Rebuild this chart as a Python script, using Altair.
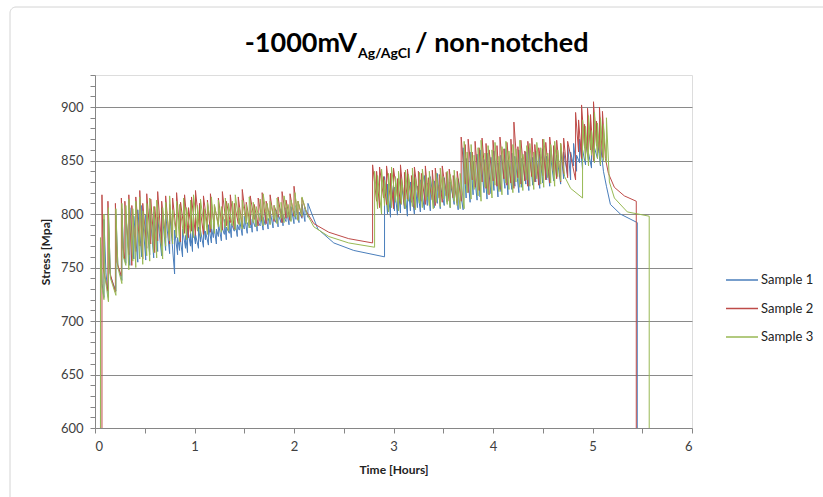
import altair as alt
import pandas as pd

SERIES = ["Sample 1", "Sample 2", "Sample 3"]
COLORS = ["#4A7EBB", "#BE4B48", "#98B954"]

# ---------------- Sample 1 (blue) ----------------
s1_start_t = [0.055, 0.055, 0.07, 0.09, 0.09, 0.11, 0.135, 0.135, 0.155, 0.21, 0.21, 0.23, 0.27, 0.27, 0.29, 0.31]
s1_start_v = [600, 775, 735, 722, 795, 745, 722, 800, 742, 728, 800, 752, 738, 805, 760, 754]
s1_a1_t = [0.31, 0.35, 0.39, 0.43, 0.47, 0.51, 0.55, 0.59, 0.63, 0.67, 0.71, 0.75]
s1_a1_lo = [754, 752, 758, 755, 760, 757, 762, 759, 765, 761, 766, 763]
s1_a1_hi = [800, 806, 798, 804, 808, 799, 805, 802, 797, 806, 800, 803]
s1_a2_t = [0.80, 0.83, 0.85, 0.88, 0.91, 0.93, 0.96, 0.98, 1.01, 1.04, 1.06, 1.09, 1.11, 1.14, 1.17,
           1.19, 1.22, 1.24, 1.27, 1.30, 1.32, 1.35, 1.37, 1.40, 1.43, 1.45, 1.48, 1.50, 1.53, 1.56,
           1.58, 1.61, 1.63, 1.66, 1.69, 1.71, 1.74, 1.76, 1.79, 1.82, 1.84, 1.87, 1.89, 1.92, 1.95,
           1.97, 2.00, 2.02, 2.05, 2.08, 2.11, 2.14]
s1_a2_lo = [744, 762, 766, 760, 768, 764, 770, 765, 772, 768, 774, 769, 776, 771, 773,
            778, 772, 779, 775, 781, 776, 782, 778, 784, 779, 785, 780, 786, 782, 787,
            783, 788, 784, 789, 785, 790, 786, 791, 787, 792, 788, 792, 789, 793, 790,
            794, 791, 795, 792, 796, 793, 797]
s1_a2_hi = [785, 778, 782, 786, 780, 787, 783, 789, 781, 788, 785, 791, 784, 790, 787,
            793, 786, 792, 789, 795, 788, 794, 791, 797, 790, 796, 793, 798, 792, 799,
            795, 800, 794, 801, 797, 802, 796, 803, 798, 804, 800, 805, 799, 806, 801,
            807, 803, 808, 802, 809, 806, 810]
s1_gap_t = [2.18, 2.24, 2.40, 2.60, 2.91]
s1_gap_v = [800, 786, 773, 766, 760]
s1_b_t = [2.91, 2.94, 2.97, 3.01, 3.04, 3.07, 3.11, 3.14, 3.17, 3.21, 3.24, 3.27, 3.31, 3.34, 3.37,
          3.41, 3.44, 3.47, 3.51, 3.54, 3.57, 3.61, 3.65]
s1_b_lo = [760, 800, 797, 803, 799, 801, 805, 798, 803, 800, 806, 802, 804, 808, 803,
           806, 810, 805, 808, 811, 806, 809, 804]
s1_b_hi = [835, 828, 836, 825, 833, 838, 827, 834, 830, 837, 826, 832, 836, 829, 835,
           831, 838, 827, 834, 837, 830, 836, 833]
s1_c_t = [3.70, 3.73, 3.77, 3.80, 3.84, 3.87, 3.91, 3.94, 3.98, 4.01, 4.05, 4.08, 4.12, 4.15, 4.19,
          4.22, 4.26, 4.29, 4.33, 4.36, 4.40, 4.43, 4.47, 4.50, 4.54, 4.57, 4.61, 4.64, 4.68, 4.71, 4.75]
s1_c_lo = [804, 815, 811, 818, 813, 816, 820, 814, 819, 822, 816, 821, 824, 818, 823,
           826, 820, 825, 828, 822, 827, 830, 824, 829, 832, 826, 831, 834, 828, 833, 836]
s1_c_hi = [862, 852, 858, 849, 856, 860, 851, 857, 853, 859, 848, 855, 861, 850, 857,
           854, 860, 852, 858, 862, 853, 859, 856, 861, 854, 860, 863, 855, 861, 858, 864]
s1_d_t = [4.78, 4.81, 4.84, 4.87, 4.90, 4.93, 4.96, 4.99, 5.02, 5.05, 5.08]
s1_d_lo = [832, 845, 840, 848, 842, 846, 850, 843, 848, 852, 845]
s1_d_hi = [858, 866, 855, 870, 860, 868, 857, 872, 862, 869, 865]
s1_end_t = [5.11, 5.14, 5.18, 5.28, 5.45, 5.45]
s1_end_v = [840, 826, 809, 800, 792, 600]

# ---------------- Sample 2 (red) ----------------
s2_start_t = [0.07, 0.07, 0.085, 0.13, 0.13, 0.15, 0.205, 0.205, 0.22, 0.265, 0.265, 0.28, 0.30]
s2_start_v = [600, 818, 748, 728, 812, 745, 727, 810, 755, 742, 815, 768, 758]
s2_a_t = [0.30, 0.34, 0.37, 0.41, 0.45, 0.48, 0.52, 0.56, 0.60, 0.63, 0.67, 0.71, 0.75, 0.78, 0.82,
          0.86, 0.90, 0.94, 0.97, 1.01, 1.05, 1.09, 1.13, 1.16, 1.20, 1.24, 1.28, 1.32, 1.36, 1.40,
          1.44, 1.48, 1.52, 1.56, 1.60, 1.64, 1.68, 1.72, 1.76, 1.80, 1.84, 1.88, 1.92, 1.96, 2.00,
          2.04, 2.08]
s2_a_lo = [758, 762, 752, 765, 770, 758, 768, 772, 764, 775, 770, 778, 772, 776, 780,
           774, 782, 778, 784, 780, 786, 781, 788, 783, 787, 790, 785, 789, 792, 786,
           791, 788, 793, 790, 795, 789, 794, 791, 796, 793, 797, 792, 796, 794, 798,
           795, 797]
s2_a_hi = [812, 818, 808, 816, 822, 810, 819, 814, 807, 821, 812, 817, 809, 815, 820,
           811, 818, 806, 816, 822, 810, 817, 813, 819, 808, 815, 821, 812, 818, 810,
           816, 823, 811, 817, 809, 815, 820, 812, 818, 808, 816, 821, 813, 819, 826,
           812, 815]
s2_gap_t = [2.12, 2.20, 2.35, 2.55, 2.79]
s2_gap_v = [803, 791, 783, 777, 773]
s2_b_t = [2.79, 2.83, 2.86, 2.90, 2.93, 2.97, 3.00, 3.04, 3.07, 3.11, 3.14, 3.18, 3.21, 3.25, 3.28,
          3.32, 3.35, 3.39, 3.42, 3.46, 3.49, 3.53, 3.56, 3.60, 3.64]
s2_b_lo = [773, 812, 806, 815, 809, 813, 805, 816, 810, 808, 814, 811, 806, 815, 812,
           809, 816, 813, 808, 815, 811, 817, 812, 815, 810]
s2_b_hi = [846, 840, 844, 835, 845, 838, 843, 833, 846, 839, 842, 836, 844, 840, 838,
           845, 834, 841, 843, 837, 845, 839, 842, 836, 840]
s2_c_t = [3.68, 3.72, 3.75, 3.79, 3.82, 3.86, 3.89, 3.93, 3.96, 4.00, 4.04, 4.07, 4.11, 4.14, 4.18,
          4.21, 4.25, 4.28, 4.32, 4.35, 4.39, 4.42, 4.46, 4.50, 4.53, 4.57, 4.61, 4.64, 4.68, 4.71, 4.75]
s2_c_lo = [812, 828, 820, 832, 825, 822, 830, 824, 818, 831, 826, 823, 833, 827, 829,
           824, 834, 828, 831, 826, 835, 830, 827, 836, 832, 829, 837, 833, 830, 838, 834]
s2_c_hi = [872, 865, 870, 858, 868, 862, 871, 866, 860, 869, 864, 872, 861, 867, 870,
           886, 863, 869, 859, 868, 871, 865, 862, 870, 867, 872, 864, 869, 866, 871, 868]
s2_d_t = [4.83, 4.86, 4.89, 4.92, 4.95, 4.98, 5.01, 5.04, 5.07, 5.10]
s2_d_lo = [832, 858, 852, 862, 855, 860, 850, 864, 857, 853]
s2_d_hi = [895, 888, 902, 884, 899, 893, 905, 887, 900, 896]
s2_end_t = [5.13, 5.16, 5.22, 5.32, 5.44, 5.44]
s2_end_v = [852, 838, 825, 817, 812, 600]

# ---------------- Sample 3 (green) ----------------
s3_start_t = [0.055, 0.055, 0.07, 0.09, 0.09, 0.10, 0.135, 0.135, 0.155, 0.21, 0.21, 0.23, 0.27, 0.27, 0.285, 0.31]
s3_start_v = [600, 778, 732, 720, 800, 742, 718, 806, 740, 724, 805, 750, 735, 810, 760, 752]
s3_a_t = [0.31, 0.34, 0.38, 0.41, 0.45, 0.48, 0.52, 0.55, 0.59, 0.62, 0.68, 0.71, 0.75, 0.78, 0.82,
          0.85, 0.89, 0.92, 0.96, 0.99, 1.03, 1.06, 1.10, 1.13, 1.17, 1.20, 1.24, 1.27, 1.31, 1.34,
          1.38, 1.41, 1.45, 1.48, 1.52, 1.55, 1.59, 1.62, 1.66, 1.69, 1.73, 1.76, 1.80, 1.83, 1.87,
          1.90, 1.94, 1.97, 2.01, 2.04, 2.08]
s3_a_lo = [752, 748, 756, 750, 758, 753, 761, 756, 764, 759, 758, 770, 775, 772, 778,
           774, 780, 776, 782, 778, 784, 779, 785, 781, 786, 782, 788, 783, 787, 784,
           789, 785, 790, 786, 791, 787, 792, 788, 793, 789, 794, 790, 795, 791, 796,
           792, 797, 793, 797, 794, 798]
s3_a_hi = [808, 814, 805, 812, 816, 803, 810, 815, 807, 813, 806, 811, 817, 804, 812,
           809, 815, 806, 813, 818, 808, 814, 805, 811, 816, 809, 813, 807, 815, 810,
           812, 818, 806, 813, 809, 816, 811, 807, 814, 819, 810, 812, 808, 815, 811,
           817, 809, 813, 820, 812, 816]
s3_gap_t = [2.13, 2.20, 2.35, 2.55, 2.81]
s3_gap_v = [800, 788, 779, 773, 769]
s3_b_t = [2.81, 2.84, 2.88, 2.91, 2.95, 2.98, 3.02, 3.05, 3.08, 3.12, 3.15, 3.19, 3.22, 3.26, 3.29,
          3.33, 3.36, 3.40, 3.43, 3.47, 3.50, 3.54, 3.57, 3.61, 3.64, 3.67]
s3_b_lo = [769, 805, 800, 808, 802, 806, 811, 803, 809, 805, 812, 807, 804, 810, 806,
           813, 808, 805, 811, 807, 814, 809, 806, 812, 808, 805]
s3_b_hi = [840, 836, 842, 832, 838, 844, 835, 840, 833, 841, 837, 843, 834, 839, 842,
           836, 840, 832, 838, 843, 835, 840, 837, 841, 834, 838]
s3_c_t = [3.71, 3.74, 3.78, 3.81, 3.85, 3.88, 3.92, 3.95, 3.99, 4.02, 4.06, 4.09, 4.13, 4.16, 4.20,
          4.23, 4.27, 4.30, 4.34, 4.37, 4.41, 4.44, 4.48, 4.51, 4.55, 4.58, 4.62, 4.65, 4.68]
s3_c_lo = [805, 820, 814, 823, 817, 812, 825, 819, 815, 827, 821, 818, 829, 823, 820,
           830, 825, 822, 832, 826, 823, 833, 828, 825, 834, 829, 826, 835, 831]
s3_c_hi = [868, 858, 865, 855, 862, 869, 857, 864, 860, 867, 854, 863, 868, 859, 865,
           861, 869, 856, 864, 866, 858, 867, 862, 870, 857, 865, 868, 860, 866]
s3_gap2_t = [4.72, 4.78, 4.90]
s3_gap2_v = [835, 824, 815]
s3_d_t = [4.90, 4.93, 4.96, 4.99, 5.02, 5.05, 5.08, 5.11]
s3_d_lo = [815, 850, 845, 855, 848, 852, 846, 850]
s3_d_hi = [888, 882, 892, 878, 895, 885, 890, 884]
s3_end_t = [5.14, 5.14, 5.17, 5.22, 5.35, 5.57, 5.57]
s3_end_v = [848, 890, 830, 815, 802, 798, 600]


def path(t, v):
    return list(zip(t, v))


def spikes(t, lo, hi):
    pts = []
    for ti, l, h in zip(t, lo, hi):
        pts.append((ti, l))
        pts.append((ti, h))
    return pts


series_parts = {
    "Sample 1": [path(s1_start_t, s1_start_v), spikes(s1_a1_t, s1_a1_lo, s1_a1_hi),
                 spikes(s1_a2_t, s1_a2_lo, s1_a2_hi), path(s1_gap_t, s1_gap_v),
                 spikes(s1_b_t, s1_b_lo, s1_b_hi), spikes(s1_c_t, s1_c_lo, s1_c_hi),
                 spikes(s1_d_t, s1_d_lo, s1_d_hi), path(s1_end_t, s1_end_v)],
    "Sample 2": [path(s2_start_t, s2_start_v), spikes(s2_a_t, s2_a_lo, s2_a_hi),
                 path(s2_gap_t, s2_gap_v), spikes(s2_b_t, s2_b_lo, s2_b_hi),
                 spikes(s2_c_t, s2_c_lo, s2_c_hi), spikes(s2_d_t, s2_d_lo, s2_d_hi),
                 path(s2_end_t, s2_end_v)],
    "Sample 3": [path(s3_start_t, s3_start_v), spikes(s3_a_t, s3_a_lo, s3_a_hi),
                 path(s3_gap_t, s3_gap_v), spikes(s3_b_t, s3_b_lo, s3_b_hi),
                 spikes(s3_c_t, s3_c_lo, s3_c_hi), path(s3_gap2_t, s3_gap2_v),
                 spikes(s3_d_t, s3_d_lo, s3_d_hi), path(s3_end_t, s3_end_v)],
}

rows = []
for name in SERIES:
    k = 0
    for part in series_parts[name]:
        for t, v in part:
            rows.append({"series": name, "time": t, "stress": v, "idx": k})
            k += 1
df = pd.DataFrame(rows)

FONT = "Lato"
W, H = 597, 353

color = alt.Color(
    "series:N",
    scale=alt.Scale(domain=SERIES, range=COLORS),
    legend=alt.Legend(
        title=None, orient="none", legendX=630, legendY=188,
        symbolType="stroke", symbolSize=1024, symbolStrokeWidth=1.5,
        rowPadding=4.5, labelFontSize=13, labelFont=FONT, labelColor="#222222",
        labelOffset=2,
    ),
)

x_enc = alt.X(
    "time:Q",
    scale=alt.Scale(domain=[0, 6], nice=False, zero=False),
    axis=alt.Axis(
        title="Time [Hours]", values=[i * 0.5 for i in range(13)],
        labelExpr="datum.value % 1 === 0 ? format(datum.value, 'd') : ''",
        grid=False, tickSize=5, labelPadding=7, titlePadding=11,
        domainColor="#868686", tickColor="#868686",
        labelColor="#404040", labelFontSize=13, labelFont=FONT,
        titleFont=FONT, titleFontSize=12, titleFontWeight="bold", titleColor="#222222",
    ),
)
y_enc = alt.Y(
    "stress:Q",
    scale=alt.Scale(domain=[600, 930], nice=False, zero=False),
    axis=alt.Axis(
        title="Stress [Mpa]", values=list(range(600, 931, 10)),
        labelExpr="datum.value % 50 === 0 ? datum.label : ''",
        gridOpacity={"condition": {"test": "datum.value % 50 === 0 && datum.value > 600", "value": 1}, "value": 0},
        gridColor="#8a8a8a", tickSize=5, labelPadding=7, titlePadding=8,
        domainColor="#868686", tickColor="#868686",
        labelColor="#404040", labelFontSize=13, labelFont=FONT,
        titleFont=FONT, titleFontSize=12, titleFontWeight="bold", titleColor="#222222",
    ),
)

layers = []
for name in SERIES:
    layers.append(
        alt.Chart(df).transform_filter(alt.datum.series == name)
        .mark_line(strokeWidth=1, interpolate="linear")
        .encode(x=x_enc, y=y_enc, color=color, order="idx:Q")
    )

border = alt.Chart(pd.DataFrame({"a": [0]})).mark_rect(
    fill=None, stroke="#d4d4d4", strokeWidth=1, cornerRadius=6
).encode(x=alt.value(-85), x2=alt.value(735), y=alt.value(-68), y2=alt.value(428))

title_df = pd.DataFrame({"a": [0]})
t_main = alt.Chart(title_df).mark_text(
    text="-1000mV", font=FONT, fontSize=27, fontWeight="bold", align="right",
    baseline="alphabetic", color="#000000"
).encode(x=alt.value(262), y=alt.value(-23))
t_sub = alt.Chart(title_df).mark_text(
    text="Ag/AgCl", font=FONT, fontSize=14, fontWeight="bold", align="left",
    baseline="alphabetic", color="#000000"
).encode(x=alt.value(263), y=alt.value(-17))
t_rest = alt.Chart(title_df).mark_text(
    text="/ non-notched", font=FONT, fontSize=27, fontWeight="bold", align="left",
    baseline="alphabetic", color="#000000"
).encode(x=alt.value(320), y=alt.value(-23))

chart = alt.layer(border, *layers, t_main, t_sub, t_rest).properties(
    width=W, height=H,
    autosize=alt.AutoSizeParams(type="none"),
    padding={"left": 95, "top": 75, "right": 823 - 95 - W, "bottom": 497 - 75 - H},
).configure_view(stroke=None).configure(background="white")

chart.save("out.html", embed_options={"renderer": "svg", "actions": False})
